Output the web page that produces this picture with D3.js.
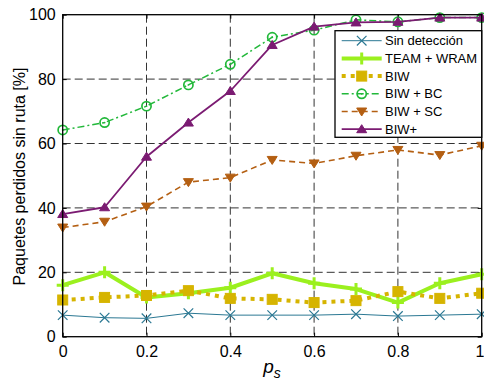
<!DOCTYPE html>
<html><head><meta charset="utf-8">
<script src="https://cdn.jsdelivr.net/npm/d3@7"></script>
<style>body{margin:0;background:#fff}svg{display:block}text{font-family:"Liberation Sans",Arial,sans-serif}</style>
</head><body>
<svg id="c" width="484" height="387"></svg>
<script>
const xs = [0,0.1,0.2,0.3,0.4,0.5,0.6,0.7,0.8,0.9,1];
const xTicks = [0,0.2,0.4,0.6,0.8,1];
const yTicks = [0,20,40,60,80,100];
const sinDeteccion = [6.7,5.9,5.7,7.3,6.7,6.7,6.7,7.0,6.4,6.7,7.0];
const teamWram = [16.0,20.0,12.2,13.5,15.2,19.7,16.6,14.8,10.6,16.6,19.4];
const biw = [11.4,12.2,12.8,14.3,11.9,11.6,10.6,11.2,14.0,11.9,13.5];
const biwBC = [64.2,66.5,71.6,78.2,84.6,93.0,95.2,98.4,97.8,99.1,99.1];
const biwSC = [33.9,35.7,40.4,48.0,49.4,54.9,53.8,56.2,58.0,56.4,59.3];
const biwPlus = [38.1,40.2,55.9,66.5,76.3,90.6,96.3,97.6,97.8,99.1,99.1];
const names = ["Sin detección","TEAM + WRAM","BIW","BIW + BC","BIW + SC","BIW+"];

const series = [
 {name:names[0], vals:sinDeteccion, color:"#2b7893", w:1, dash:null, marker:"x"},
 {name:names[1], vals:teamWram, color:"#9bf01e", w:4, dash:null, marker:"plus"},
 {name:names[2], vals:biw, color:"#d6b400", w:4, dash:"4,5", marker:"square"},
 {name:names[3], vals:biwBC, color:"#22b83a", w:1.5, dash:"7,3,2,3", marker:"circle"},
 {name:names[4], vals:biwSC, color:"#b45f12", w:1.6, dash:"6,4", marker:"tdown"},
 {name:names[5], vals:biwPlus, color:"#7b1b72", w:1.8, dash:null, marker:"tup"}
];

const svg = d3.select("#c");
const L=62.7, R=481.7, T=14.7, B=336.7;
const x = d3.scaleLinear().domain([0,1]).range([L,R]);
const y = d3.scaleLinear().domain([0,100]).range([B,T]);

// grid
const g = svg.append("g");
g.selectAll(".vg").data(xTicks.slice(1,-1)).enter().append("line")
 .attr("x1",d=>x(d)).attr("x2",d=>x(d)).attr("y1",T).attr("y2",B)
 .attr("stroke","#333").attr("stroke-width",1).attr("stroke-dasharray","8,4");
g.selectAll(".hg").data(yTicks.slice(1,-1)).enter().append("line")
 .attr("y1",d=>y(d)).attr("y2",d=>y(d)).attr("x1",L).attr("x2",R)
 .attr("stroke","#333").attr("stroke-width",1).attr("stroke-dasharray","8,4");

// axes
const fs = 16;
const xAxis = d3.axisBottom(x).tickValues(xTicks).tickSizeInner(-4).tickSizeOuter(0).tickPadding(9)
 .tickFormat(d=>d===0?"0":d===1?"1":d3.format(".1f")(d));
const yAxis = d3.axisLeft(y).tickValues(yTicks).tickSizeInner(-4).tickSizeOuter(0).tickPadding(7);
const ax = svg.append("g").attr("transform",`translate(0,${B})`).call(xAxis);
const ay = svg.append("g").attr("transform",`translate(${L},0)`).call(yAxis);
const axT = svg.append("g").attr("transform",`translate(0,${T})`).call(d3.axisTop(x).tickValues(xTicks).tickSizeInner(-4).tickSizeOuter(0).tickFormat(""));
const ayR = svg.append("g").attr("transform",`translate(${R},0)`).call(d3.axisRight(y).tickValues(yTicks).tickSizeInner(-4).tickSizeOuter(0).tickFormat(""));
[ax,ay,axT,ayR].forEach(a=>{a.select(".domain").remove();a.selectAll("line").attr("stroke","#000");
 a.selectAll("text").attr("font-size",fs).attr("fill","#000").attr("font-family","Liberation Sans, Arial, sans-serif");});
// keep the last x tick label inside the window
ax.selectAll(".tick").filter(d=>d===1).select("text").attr("text-anchor","end").attr("dx",2.3);

const line = d3.line().x((d,i)=>x(xs[i])).y(d=>y(d));
const pg = svg.append("g");
function drawMarker(sel, m, cx, cy, color){
 if(m==="x"){ const s=4.8;
  sel.append("path").attr("d",`M${cx-s},${cy-s}L${cx+s},${cy+s}M${cx-s},${cy+s}L${cx+s},${cy-s}`).attr("stroke",color).attr("stroke-width",1.2).attr("fill","none");}
 else if(m==="plus"){ const s=6;
  sel.append("path").attr("d",`M${cx-s},${cy}L${cx+s},${cy}M${cx},${cy-s}L${cx},${cy+s}`).attr("stroke",color).attr("stroke-width",3).attr("fill","none");}
 else if(m==="square"){ const s=5;
  sel.append("rect").attr("x",cx-s).attr("y",cy-s).attr("width",2*s).attr("height",2*s).attr("fill",color).attr("stroke",color).attr("stroke-width",1);}
 else if(m==="circle"){
  sel.append("circle").attr("cx",cx).attr("cy",cy).attr("r",4.6).attr("fill","none").attr("stroke",color).attr("stroke-width",1.7);
  sel.append("circle").attr("cx",cx).attr("cy",cy).attr("r",0.9).attr("fill",color);}
 else if(m==="tdown"){ const s=5;
  sel.append("path").attr("d",`M${cx-s},${cy-s*0.7}L${cx+s},${cy-s*0.7}L${cx},${cy+s*0.9}Z`).attr("fill",color).attr("stroke",color).attr("stroke-width",1);}
 else if(m==="tup"){ const s=5;
  sel.append("path").attr("d",`M${cx-s},${cy+s*0.7}L${cx+s},${cy+s*0.7}L${cx},${cy-s*0.9}Z`).attr("fill",color).attr("stroke",color).attr("stroke-width",1);}
}
series.forEach(s=>{
 pg.append("path").attr("d",line(s.vals)).attr("fill","none").attr("stroke",s.color).attr("stroke-width",s.w)
  .attr("stroke-dasharray",s.dash).attr("stroke-linejoin","round");
 s.vals.forEach((v,i)=>drawMarker(pg,s.marker,x(xs[i]),y(v),s.color));
});

// box
svg.append("rect").attr("x",L).attr("y",T).attr("width",R-L).attr("height",B-T).attr("fill","none").attr("stroke","#000").attr("stroke-width",1.3);

// legend
const lg = svg.append("g");
lg.append("rect").attr("x",335).attr("y",30.7).attr("width",R-335).attr("height",106.6).attr("fill","#fff").attr("stroke","#000").attr("stroke-width",1.3);
series.forEach((s,i)=>{const cy=40.7+i*17.7;
 lg.append("line").attr("x1",341.7).attr("x2",381.7).attr("y1",cy).attr("y2",cy).attr("stroke",s.color).attr("stroke-width",s.w).attr("stroke-dasharray",s.dash);
 drawMarker(lg,s.marker,361.7,cy,s.color);
 lg.append("text").attr("x",385).attr("y",cy+4.6).attr("font-size",13).attr("fill","#000").text(s.name);
});

// labels
svg.append("text").attr("transform",`translate(25,176.5) rotate(-90)`).attr("text-anchor","middle").attr("font-size",16).attr("fill","#000").text("Paquetes perdidos sin ruta [%]");
const xl = svg.append("text").attr("x",272).attr("y",373).attr("text-anchor","middle").attr("fill","#000").attr("font-size",19).attr("font-style","italic");
xl.append("tspan").text("p");
xl.append("tspan").attr("font-size",14).attr("dy",5).text("s");
</script>
</body></html>
